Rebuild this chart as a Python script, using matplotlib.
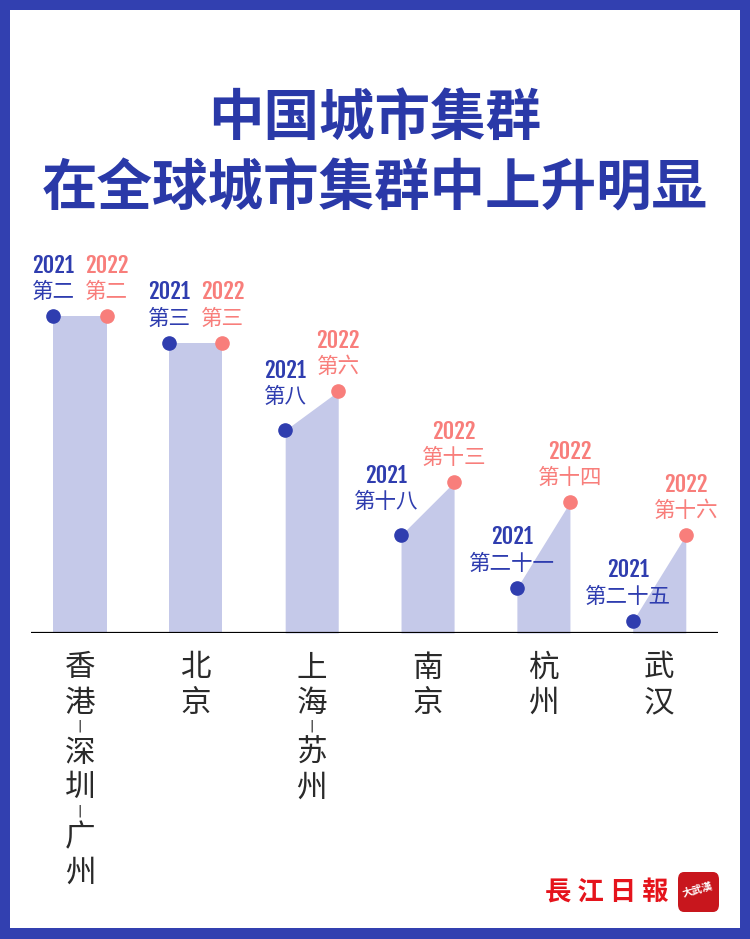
import numpy as np
import matplotlib
matplotlib.use('Agg')
import matplotlib.pyplot as plt
from matplotlib.patches import Rectangle, FancyBboxPatch

plt.rcParams['font.family'] = ['Noto Sans CJK SC', 'DejaVu Sans']

# city groups, rank labels and relative positions
cities = ['香港-深圳-广州', '北京', '上海-苏州', '南京', '杭州', '武汉']
rank_2021 = ['第二', '第三', '第八', '第十八', '第二十一', '第二十五']
rank_2022 = ['第二', '第三', '第六', '第十三', '第十四', '第十六']
score_2021 = [100, 91.5, 64.0, 30.9, 14.2, 3.8]
score_2022 = [100, 91.5, 76.3, 47.6, 41.3, 30.9]

BLUE = '#2F3DAF'
SALMON = '#F87E7B'
BAR = '#C5C9E9'
TITLE = '#2A39A8'
NUM_FONT = ['Fjalla One', 'Roboto Condensed', 'Oswald', 'DejaVu Sans']

W, H = 750, 939
PT = 0.72  # points per pixel at dpi 100

fig = plt.figure(figsize=(W / 100, H / 100), dpi=100)
fig.patch.set_facecolor('#3240B0')
# white card inside the blue frame
fig.patches.append(Rectangle((10 / W, 11 / H), 730 / W, 918 / H,
                             transform=fig.transFigure, fc='white', ec='none', zorder=-1))

fig.text(0.5, 1 - 119 / H, '中国城市集群', ha='center', va='center',
         fontsize=40, fontweight='heavy', color=TITLE)
fig.text(0.5, 1 - 189 / H, '在全球城市集群中上升明显', ha='center', va='center',
         fontsize=40, fontweight='heavy', color=TITLE)

ax = fig.add_axes([31 / W, 1 - 633 / H, 687 / W, 400 / H])
ax.set_zorder(5)
ax.set_xlim(-0.423, 5.507)
ax.set_ylim(0, 126.2)
ax.axis('off')

half = 0.229
ax.axhline(0, color='black', lw=1.6, zorder=4)

# small nudges so the 2021 labels clear the sloped tops
shift_2021 = [(0, 0), (0, 0), (0, 9), (-15, 9), (-5, 0), (-5, 0)]


def label(x, y, year, rank, color, dx=0, dy=0):
    ax.annotate(year, (x, y), xytext=(dx * PT, (dy + 51) * PT), textcoords='offset points',
                ha='center', va='center', fontsize=16, fontweight='bold',
                color=color, family=NUM_FONT, annotation_clip=False)
    ax.annotate(rank, (x, y), xytext=(dx * PT, (dy + 24) * PT), textcoords='offset points',
                ha='center', va='center', fontsize=15.5, color=color,
                annotation_clip=False)


for i, city in enumerate(cities):
    xl, xr = i - half, i + half
    ax.fill_between([xl, xr], [score_2021[i], score_2022[i]], 0, color=BAR, lw=0, zorder=1)
    ax.plot([xl], [score_2021[i]], 'o', ms=9.5, color=BLUE, zorder=3, clip_on=False)
    ax.plot([xr], [score_2022[i]], 'o', ms=9.5, color=SALMON, zorder=3, clip_on=False)
    dx, dy = shift_2021[i]
    label(xl, score_2021[i], '2021', rank_2021[i], BLUE, dx, dy)
    label(xr, score_2022[i], '2022', rank_2022[i], SALMON)

    # vertical city name under the baseline, the hyphen turned upright
    off = 35
    prev = None
    for ch in city:
        if prev is not None:
            off += 25 if (ch == '-' or prev == '-') else 35
        if ch == '-':
            ax.annotate('|', (i, 0), xytext=(0, -(off - 2) * PT), textcoords='offset points',
                        ha='center', va='center', fontsize=9.5,
                        color='#222222', family=['DejaVu Sans'], annotation_clip=False)
        else:
            ax.annotate(ch, (i, 0), xytext=(0, -off * PT), textcoords='offset points',
                        ha='center', va='center', fontsize=22, fontweight='light',
                        color='#2a2a2a', annotation_clip=False)
        prev = ch

# newspaper mark, bottom right
fig.text(607 / W, 1 - 893 / H, '長 江 日 報', ha='center', va='center', fontsize=19,
         fontweight='bold', color='#E5141C', family=['Noto Sans CJK TC', 'DejaVu Sans'])
fig.patches.append(FancyBboxPatch((678 / W, 1 - 912 / H), 41 / W, 40 / H,
                                  boxstyle='round,pad=0,rounding_size=0.008',
                                  transform=fig.transFigure, fc='#C8161D', ec='none', zorder=2))
fig.text(698 / W, 1 - 890 / H, '大武漢', ha='center', va='center', fontsize=7.5,
         fontweight='bold', color='white', rotation=15,
         family=['Noto Sans CJK TC', 'DejaVu Sans'], zorder=3)

fig.savefig('out.png', dpi=100, facecolor=fig.get_facecolor())
